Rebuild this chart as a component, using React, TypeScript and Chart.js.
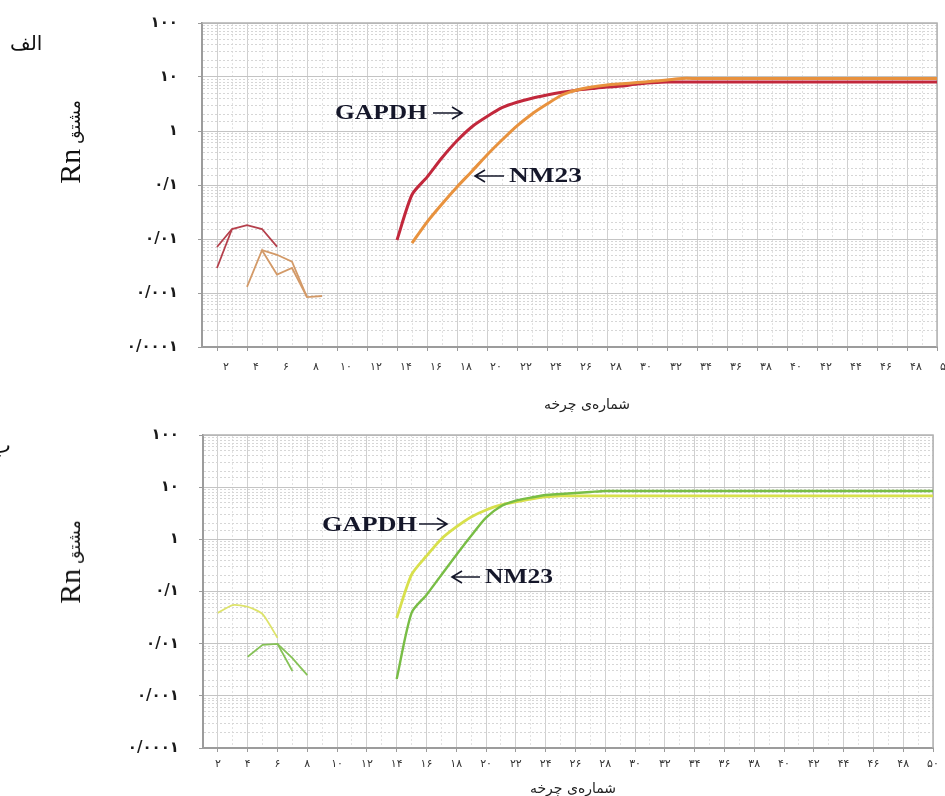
import React, { useEffect, useRef } from 'react';
import { Chart, registerables } from 'chart.js';

Chart.register(...registerables);

// ---------- axis ticks ----------
const yTickValues = [0.0001, 0.001, 0.01, 0.1, 1, 10, 100];
const yTickLabels = ['۰/۰۰۰۱', '۰/۰۰۱', '۰/۰۱', '۰/۱', '۱', '۱۰', '۱۰۰'];
const xTickCycles = [2, 4, 6, 8, 10, 12, 14, 16, 18, 20, 22, 24, 26, 28, 30, 32, 34, 36, 38, 40, 42, 44, 46, 48, 50];
const xTickLabels = ['۲', '۴', '۶', '۸', '۱۰', '۱۲', '۱۴', '۱۶', '۱۸', '۲۰', '۲۲', '۲۴', '۲۶', '۲۸', '۳۰', '۳۲', '۳۴', '۳۶', '۳۸', '۴۰', '۴۲', '۴۴', '۴۶', '۴۸', '۵۰'];

// ---------- panel الف (red / orange) ----------
const aGapdhEarly1Cycles = [2, 3, 4, 5, 6];
const aGapdhEarly1Values = [0.0071, 0.0153, 0.018, 0.0153, 0.0072];
const aGapdhEarly2Cycles = [2, 3];
const aGapdhEarly2Values = [0.0029, 0.0153];
const aNm23Early1Cycles = [4, 5, 6, 7, 8, 9];
const aNm23Early1Values = [0.0013, 0.0062, 0.0022, 0.0029, 0.00084, 0.00088];
const aNm23Early2Cycles = [5, 6, 7, 8];
const aNm23Early2Values = [0.0062, 0.0051, 0.0038, 0.00084];

const aGapdhCycles = [14, 15, 16, 17, 18, 19, 20, 21, 22, 23, 24, 25, 26, 27, 28, 29, 30, 31, 32, 33, 34, 35, 36, 37, 38, 39, 40, 41, 42, 43, 44, 45, 46, 47, 48, 49, 50];
const aGapdhValues = [0.0096, 0.066, 0.14, 0.32, 0.66, 1.2, 1.85, 2.7, 3.4, 4.05, 4.64, 5.2, 5.7, 6.1, 6.5, 6.8, 7.4, 7.8, 8.1, 8.1, 8.1, 8.1, 8.1, 8.1, 8.1, 8.1, 8.1, 8.1, 8.1, 8.1, 8.1, 8.1, 8.1, 8.1, 8.1, 8.1, 8.1];
const aNm23Cycles = [15, 16, 17, 18, 19, 20, 21, 22, 23, 24, 25, 26, 27, 28, 29, 30, 31, 32, 33, 34, 35, 36, 37, 38, 39, 40, 41, 42, 43, 44, 45, 46, 47, 48, 49, 50];
const aNm23Values = [0.0084, 0.0206, 0.0445, 0.092, 0.18, 0.36, 0.68, 1.24, 2.07, 3.16, 4.64, 5.74, 6.53, 7.11, 7.5, 7.9, 8.3, 8.8, 9.4, 9.4, 9.4, 9.4, 9.4, 9.4, 9.4, 9.4, 9.4, 9.4, 9.4, 9.4, 9.4, 9.4, 9.4, 9.4, 9.4, 9.4];

// ---------- panel ب (yellow / green) ----------
const bGapdhEarlyCycles = [2, 3, 4, 5, 6];
const bGapdhEarlyValues = [0.039, 0.055, 0.051, 0.037, 0.0129];
const bNm23Early1Cycles = [4, 5, 6, 7];
const bNm23Early1Values = [0.0056, 0.0095, 0.0099, 0.003];
const bNm23Early2Cycles = [6, 7, 8];
const bNm23Early2Values = [0.0099, 0.0053, 0.0025];

const bGapdhCycles = [14, 15, 16, 17, 18, 19, 20, 21, 22, 23, 24, 25, 26, 27, 28, 29, 30, 31, 32, 33, 34, 35, 36, 37, 38, 39, 40, 41, 42, 43, 44, 45, 46, 47, 48, 49, 50];
const bGapdhValues = [0.031, 0.21, 0.48, 1.02, 1.73, 2.69, 3.66, 4.56, 5.2, 5.9, 6.49, 6.78, 6.78, 6.78, 6.78, 6.78, 6.78, 6.78, 6.78, 6.78, 6.78, 6.78, 6.78, 6.78, 6.78, 6.78, 6.78, 6.78, 6.78, 6.78, 6.78, 6.78, 6.78, 6.78, 6.78, 6.78, 6.78];
const bNm23Cycles = [14, 15, 16, 17, 18, 19, 20, 21, 22, 23, 24, 25, 26, 27, 28, 29, 30, 31, 32, 33, 34, 35, 36, 37, 38, 39, 40, 41, 42, 43, 44, 45, 46, 47, 48, 49, 50];
const bNm23Values = [0.0021, 0.039, 0.086, 0.208, 0.5, 1.17, 2.6, 4.3, 5.5, 6.3, 7.09, 7.41, 7.75, 8.09, 8.45, 8.45, 8.45, 8.45, 8.45, 8.45, 8.45, 8.45, 8.45, 8.45, 8.45, 8.45, 8.45, 8.45, 8.45, 8.45, 8.45, 8.45, 8.45, 8.45, 8.45, 8.45, 8.45];

const pts = (xs: number[], ys: number[]) => xs.map((x, i) => ({ x, y: ys[i] }));

const isDecade = (v: number) => {
  const l = Math.log10(v);
  return Math.abs(l - Math.round(l)) < 1e-6;
};

const line = (xs: number[], ys: number[], color: string, width: number, tension: number) => ({
  data: pts(xs, ys),
  borderColor: color,
  borderWidth: width,
  pointRadius: 0,
  tension,
  fill: false,
});

type Annot = { text: string; x: number; y: number; w: number; ax1: number; ax2: number; ay: number };

const framePlugin = {
  id: 'frame',
  beforeDatasetsDraw(chart: any) {
    const { ctx, chartArea: a } = chart;
    ctx.save();
    ctx.strokeStyle = '#b2b2b2';
    ctx.lineWidth = 1.5;
    ctx.beginPath();
    ctx.moveTo(a.left, a.top);
    ctx.lineTo(a.right, a.top);
    ctx.lineTo(a.right, a.bottom);
    ctx.stroke();
    ctx.restore();
  },
};

const makeAnnotPlugin = (items: Annot[]) => ({
  id: 'arrowLabels',
  afterDatasetsDraw(chart: any) {
    const ctx = chart.ctx as CanvasRenderingContext2D;
    ctx.save();
    ctx.fillStyle = '#15172a';
    ctx.strokeStyle = '#15172a';
    ctx.font = 'bold 22px "Liberation Serif", serif';
    ctx.textBaseline = 'middle';
    ctx.textAlign = 'left';
    items.forEach((it) => {
      const m = ctx.measureText(it.text).width;
      ctx.save();
      ctx.translate(it.x, it.y);
      ctx.scale(it.w / m, 1);
      ctx.fillText(it.text, 0, 0);
      ctx.restore();
      const dir = it.ax2 > it.ax1 ? 1 : -1;
      ctx.lineWidth = 1.6;
      ctx.beginPath();
      ctx.moveTo(it.ax1, it.ay);
      ctx.lineTo(it.ax2, it.ay);
      ctx.moveTo(it.ax2 - dir * 10, it.ay - 6);
      ctx.lineTo(it.ax2, it.ay);
      ctx.lineTo(it.ax2 - dir * 10, it.ay + 6);
      ctx.stroke();
    });
    ctx.restore();
  },
});

type PanelProps = {
  datasets: any[];
  height: number;
  yWidth: number;
  xHeight: number;
  padTop: number;
  padRight: number;
  xPad: number;
  labelOffset: number;
  annots: Annot[];
};

function Panel({ datasets, height, yWidth, xHeight, padTop, padRight, xPad, labelOffset, annots }: PanelProps) {
  const ref = useRef<HTMLCanvasElement>(null);
  useEffect(() => {
    const chart = new Chart(ref.current as HTMLCanvasElement, {
      type: 'line',
      data: { datasets },
      options: {
        animation: false,
        responsive: false,
        devicePixelRatio: 1,
        layout: { padding: { left: 0, top: padTop, right: padRight, bottom: 0 } },
        plugins: { legend: { display: false }, tooltip: { enabled: false } },
        scales: {
          x: {
            type: 'linear',
            min: 1,
            max: 50,
            afterFit: (s: any) => {
              s.height = xHeight;
              s.paddingLeft = 0;
              s.paddingRight = 0;
            },
            ticks: {
              stepSize: 1,
              autoSkip: false,
              maxRotation: 0,
              padding: xPad,
              labelOffset,
              color: '#333',
              font: { family: '"DejaVu Sans", sans-serif', size: 11 },
              callback: (v: any) => {
                const i = xTickCycles.indexOf(Number(v));
                return i >= 0 ? xTickLabels[i] : '';
              },
            },
            grid: {
              color: (c: any) => (c.tick && c.tick.value % 2 === 0 ? '#d0d0d0' : '#e2e2e2'),
              tickColor: (c: any) => (c.tick && c.tick.value % 2 === 0 ? '#9a9a9a' : 'rgba(0,0,0,0)'),
              tickLength: 4,
              lineWidth: 1,
            },
            border: {
              color: '#9c9c9c',
              width: 2,
              dash: (c: any) => (c.tick && c.tick.value % 2 !== 0 ? [2, 2] : []),
            },
          },
          y: {
            type: 'logarithmic',
            min: 0.0001,
            max: 100,
            afterFit: (s: any) => {
              s.width = yWidth;
              s.paddingTop = 0;
              s.paddingBottom = 0;
            },
            ticks: {
              autoSkip: false,
              padding: 20,
              color: '#1a1a1a',
              font: { family: '"DejaVu Sans", sans-serif', size: 15, weight: 'bold' },
              callback: (v: any) => {
                const n = Number(v);
                const i = yTickValues.findIndex((t) => Math.abs(t - n) / t < 1e-6);
                return i >= 0 ? yTickLabels[i] : '';
              },
            },
            grid: {
              color: (c: any) => (c.tick && isDecade(c.tick.value) ? '#c4c4c4' : '#d6d6d6'),
              tickColor: (c: any) => (c.tick && isDecade(c.tick.value) ? '#9a9a9a' : 'rgba(0,0,0,0)'),
              tickLength: 4,
              lineWidth: 1,
            },
            border: {
              color: '#9c9c9c',
              width: 2,
              dash: (c: any) => (c.tick && !isDecade(c.tick.value) ? [2, 2] : []),
            },
          },
        },
      } as any,
      plugins: [framePlugin, makeAnnotPlugin(annots)],
    });
    return () => chart.destroy();
  }, []);
  return <canvas ref={ref} width={945} height={height} style={{ display: 'block', width: 945, height }} />;
}

const topDatasets = [
  line(aGapdhEarly1Cycles, aGapdhEarly1Values, '#b5404c', 1.8, 0),
  line(aGapdhEarly2Cycles, aGapdhEarly2Values, '#b5404c', 1.8, 0),
  line(aNm23Early1Cycles, aNm23Early1Values, '#d39a68', 1.8, 0),
  line(aNm23Early2Cycles, aNm23Early2Values, '#d39a68', 1.8, 0),
  line(aNm23Cycles, aNm23Values, '#e8923e', 3, 0.25),
  line(aGapdhCycles, aGapdhValues, '#c2283c', 3, 0.25),
];

const bottomDatasets = [
  line(bGapdhEarlyCycles, bGapdhEarlyValues, '#dde36a', 1.8, 0.2),
  line(bNm23Early1Cycles, bNm23Early1Values, '#86c257', 1.8, 0),
  line(bNm23Early2Cycles, bNm23Early2Values, '#86c257', 1.8, 0),
  line(bNm23Cycles, bNm23Values, '#78bd45', 2.4, 0.25),
  line(bGapdhCycles, bGapdhValues, '#d8e04c', 2.8, 0.25),
];

const topAnnots: Annot[] = [
  { text: 'GAPDH', x: 335, y: 113, w: 92, ax1: 433, ax2: 462, ay: 113 },
  { text: 'NM23', x: 509, y: 176, w: 73, ax1: 504, ax2: 475, ay: 176 },
];
const bottomAnnots: Annot[] = [
  { text: 'GAPDH', x: 322, y: 113, w: 95, ax1: 419, ax2: 447, ay: 112 },
  { text: 'NM23', x: 485, y: 165, w: 68, ax1: 480, ax2: 452, ay: 165 },
];

const abs = (o: React.CSSProperties): React.CSSProperties => ({ position: 'absolute', lineHeight: 1, whiteSpace: 'nowrap', ...o });

function YTitle({ cx, cy }: { cx: number; cy: number }) {
  return (
    <div style={abs({ left: cx, top: cy, transform: 'translate(-50%,-50%) rotate(-90deg)', direction: 'ltr', color: '#111' })}>
      <span style={{ fontFamily: '"Liberation Serif", serif', fontSize: 30 }}>Rn</span>
      <span style={{ fontFamily: '"DejaVu Sans", sans-serif', fontSize: 17, marginLeft: 5 }}>مشتق</span>
    </div>
  );
}

export default function App() {
  return (
    <div style={{ position: 'absolute', left: 0, top: 0, width: 945, height: 796, overflow: 'hidden', background: '#fff' }}>
      <div style={{ position: 'absolute', left: 0, top: 0 }}>
        <Panel datasets={topDatasets} height={412} yWidth={202} xHeight={65} padTop={23} padRight={8} xPad={10} labelOffset={9} annots={topAnnots} />
      </div>
      <div style={{ position: 'absolute', left: 0, top: 412 }}>
        <Panel datasets={bottomDatasets} height={384} yWidth={203} xHeight={48} padTop={23} padRight={12} xPad={6} labelOffset={0} annots={bottomAnnots} />
      </div>
      <div style={abs({ left: 10, top: 33, fontFamily: '"DejaVu Sans", sans-serif', fontSize: 20, color: '#111', direction: 'rtl' })}>الف</div>
      <div style={abs({ right: 934, top: 435, fontFamily: '"DejaVu Sans", sans-serif', fontSize: 22, color: '#111', textAlign: 'right' })}>ب</div>
      <YTitle cx={70} cy={142} />
      <YTitle cx={70} cy={562} />
      <div style={abs({ left: 587, top: 404, transform: 'translate(-50%,-50%)', fontFamily: '"DejaVu Sans", sans-serif', fontSize: 14, color: '#222', direction: 'rtl' })}>شماره‌ی چرخه</div>
      <div style={abs({ left: 573, top: 788, transform: 'translate(-50%,-50%)', fontFamily: '"DejaVu Sans", sans-serif', fontSize: 14, color: '#222', direction: 'rtl' })}>شماره‌ی چرخه</div>
    </div>
  );
}
